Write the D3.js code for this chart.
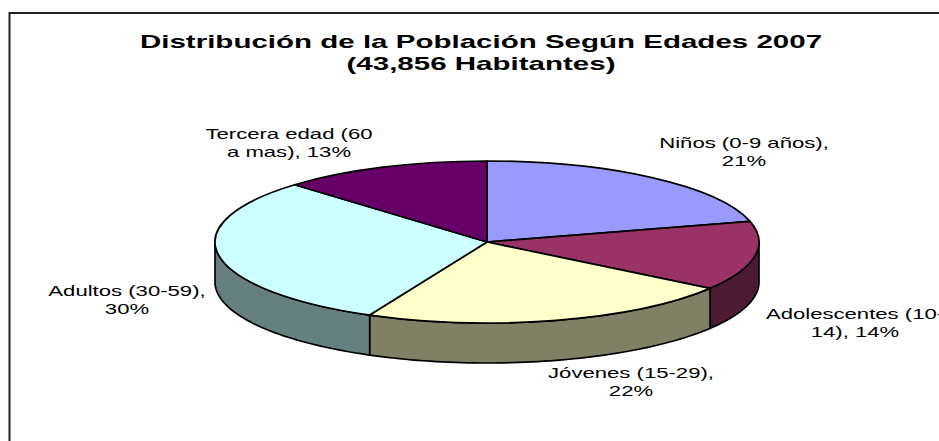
<!DOCTYPE html>
<html lang="es">
<head>
    <meta charset="UTF-8">
    <title>Distribución de la Población</title>
    <script src="https://d3js.org/d3.v7.min.js"></script>
    <style>
        body { margin: 0; background: #fff; overflow: hidden; }
        svg { display: block; }
        text { font-family: "Liberation Sans", Arial, sans-serif; fill: #000; text-anchor: middle; }
        .title { font-size: 18px; font-weight: bold; }
        .label { font-size: 14px; }
        .rim { stroke: #000; stroke-width: 1.7px; stroke-linejoin: round; }
    </style>
</head>
<body>
    <script>
        // datos
        const categories = ["Niños (0-9 años)", "Adolescentes (10-14)", "Jóvenes (15-29)", "Adultos (30-59)", "Tercera edad (60 a mas)"];
        const values = [20.9, 13.8, 22.4, 30.4, 12.5];
        const topColors = ["#9999ff", "#993366", "#ffffcc", "#ccffff", "#660066"];
        const wallColors = ["#4d4d80", "#4d1a33", "#808066", "#668080", "#330033"];
        const titleLines = ["Distribución de la Población Según Edades 2007", "(43,856 Habitantes)"];
        const labelLines = [
            ["Niños (0-9 años),", "21%"],
            ["Adolescentes (10-", "14), 14%"],
            ["Jóvenes (15-29),", "22%"],
            ["Adultos (30-59),", "30%"],
            ["Tercera edad (60", "a mas), 13%"]
        ];

        // medidas
        const width = 939, height = 441;
        const cx = 487, cy = 242, rx = 272, ry = 81, depth = 40;
        const titleBase = [48, 70];
        const labelCentre = [[744, 148], [855, 319], [631, 378], [127, 296], [289, 139]];
        const lineStep = 18;
        const stretchTitle = 1.64, stretchLabel = 1.58;

        const svg = d3.select("body").append("svg")
            .attr("width", width)
            .attr("height", height);

        // marco, abierto por la derecha y por abajo
        svg.append("path")
            .attr("d", `M${width},13H9.5V${height}`)
            .attr("fill", "none")
            .attr("stroke", "#222")
            .attr("stroke-width", 2);

        // escalas de la elipse
        const xPos = d3.scaleLinear().domain([-1, 1]).range([cx - rx, cx + rx]);
        const yPos = d3.scaleLinear().domain([-1, 1]).range([cy - ry, cy + ry]);

        const arcs = d3.pie().sort(null).value(d => d)(values);

        // pared lateral, solo la mitad delantera
        const wall = d3.area()
            .x(t => xPos(Math.sin(t)))
            .y0(t => yPos(-Math.cos(t)))
            .y1(t => yPos(-Math.cos(t)) + depth);

        arcs.forEach((a, i) => {
            const start = Math.max(a.startAngle, Math.PI / 2);
            const end = Math.min(a.endAngle, Math.PI * 1.5);
            if (end <= start) return;
            const n = 60;
            const angles = d3.range(n + 1).map(k => start + (end - start) * k / n);
            svg.append("path")
                .attr("class", "rim")
                .attr("d", wall(angles))
                .attr("fill", wallColors[i]);
        });

        // tapa superior
        const arc = d3.arc().innerRadius(0).outerRadius(rx);
        svg.append("g")
            .attr("transform", `translate(${cx},${cy}) scale(1,${ry / rx})`)
            .selectAll("path")
            .data(arcs)
            .enter()
            .append("path")
            .attr("class", "rim")
            .attr("vector-effect", "non-scaling-stroke")
            .attr("d", arc)
            .attr("fill", (d, i) => topColors[i]);

        // título
        titleLines.forEach((line, i) => {
            svg.append("text")
                .attr("class", "title")
                .attr("transform", `translate(481,${titleBase[i]}) scale(${stretchTitle},1)`)
                .text(line);
        });

        // etiquetas
        labelLines.forEach((lines, i) => {
            lines.forEach((line, j) => {
                svg.append("text")
                    .attr("class", "label")
                    .attr("transform", `translate(${labelCentre[i][0]},${labelCentre[i][1] + j * lineStep}) scale(${stretchLabel},1)`)
                    .text(line);
            });
        });
    </script>
</body>
</html>
